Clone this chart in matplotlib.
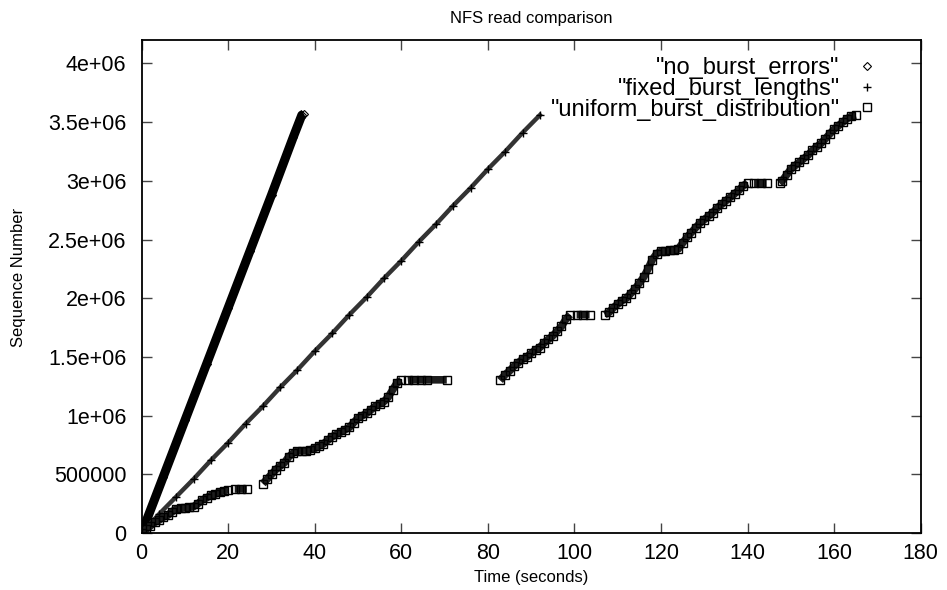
import numpy as np
import matplotlib.pyplot as plt
from matplotlib.lines import Line2D

plt.rcParams['font.family'] = ['Liberation Sans', 'DejaVu Sans']

nan = np.nan

# "no_burst_errors" (time in s, sequence number in units of 1e6)
noburst_t = [0, 5, 10, 15, 20, 25, 30, 35, 37, 37.5]
noburst_seq = [0, 0.48, 0.96, 1.44, 1.92, 2.40, 2.88, 3.37, 3.56, 3.57]

# "fixed_burst_lengths"
fixed_t = [0, 4, 8, 12, 16, 20, 24, 28, 32, 36, 40, 44, 48, 52, 56, 60,
           64, 68, 72, 76, 80, 84, 88, 92]
fixed_seq = [0, 0.16, 0.31, 0.46, 0.62, 0.77, 0.93, 1.08, 1.24, 1.39, 1.55,
             1.70, 1.86, 2.01, 2.17, 2.32, 2.48, 2.63, 2.79, 2.94, 3.10,
             3.25, 3.41, 3.56]

# "uniform_burst_distribution" (nan = break between rising runs and stalls)
uniform_t = [0, 1, 2, 3, 4, 5, 6, 7, 8, 9, 10, 11, 12, 13, 14, 15, 16, 17, 18, 19, 20,
             nan, 21.5, 23, 24.3, nan,
             28, 29, 30, 31, 32, 33, 34, 35, 36, 37, 38, 39, 40, 41, 42, 43, 44, 45,
             46, 47, 48, 49, 50, 51, 52, 53, 54, 55, 56, 57, 58, 59, 60,
             nan, 61.5, 63, 64.5, 66, 70.5, nan,
             82.8, 84, 85, 86, 87, 88, 89, 90, 91, 92, 93, 94, 95, 96, 97, 98, 99,
             nan, 100.5, 102, 103.5, nan,
             107, 108, 109, 110, 111, 112, 113, 114, 115, 116, 117, 118, 119, 120,
             121, 122, 123, 124, 125, 126, 127, 128, 129, 130, 131, 132, 133, 134,
             135, 136, 137, 138, 139, 140,
             nan, 141.5, 143, 144.4, nan,
             147.4, 148, 149, 150, 151, 152, 153, 154, 155, 156, 157, 158, 159, 160,
             161, 162, 163, 164, 165]
uniform_seq = [0, 0.03, 0.06, 0.09, 0.11, 0.135, 0.15, 0.18, 0.205, 0.21, 0.215, 0.22,
               0.225, 0.25, 0.28, 0.30, 0.32, 0.33, 0.35, 0.36, 0.37,
               nan, 0.375, 0.375, 0.375, nan,
               0.42, 0.46, 0.50, 0.54, 0.57, 0.60, 0.65, 0.68, 0.70, 0.70, 0.70, 0.71,
               0.72, 0.74, 0.76, 0.79, 0.82, 0.84, 0.86, 0.88, 0.90, 0.94, 0.98, 1.00,
               1.02, 1.05, 1.08, 1.10, 1.12, 1.16, 1.22, 1.28, 1.30,
               nan, 1.30, 1.305, 1.305, 1.305, 1.305, nan,
               1.30, 1.35, 1.38, 1.42, 1.45, 1.48, 1.50, 1.53, 1.56, 1.58, 1.62, 1.65,
               1.68, 1.72, 1.76, 1.82, 1.86,
               nan, 1.86, 1.86, 1.86, nan,
               1.86, 1.88, 1.92, 1.95, 1.98, 2.00, 2.04, 2.08, 2.13, 2.18, 2.25, 2.33,
               2.38, 2.40, 2.40, 2.41, 2.41, 2.42, 2.47, 2.52, 2.56, 2.60, 2.64, 2.67,
               2.70, 2.73, 2.77, 2.80, 2.83, 2.86, 2.89, 2.92, 2.96, 2.98,
               nan, 2.98, 2.98, 2.98, nan,
               2.98, 3.00, 3.05, 3.10, 3.13, 3.16, 3.19, 3.22, 3.26, 3.29, 3.32, 3.36,
               3.40, 3.44, 3.47, 3.50, 3.53, 3.55, 3.56]

labels = ['"no_burst_errors"', '"fixed_burst_lengths"', '"uniform_burst_distribution"']

scale = 1e6
fig = plt.figure(figsize=(9.47, 5.9), dpi=100)
ax = fig.add_axes([0.1496, 0.0966, 0.8226, 0.8356])

# dense point clouds -> thick bands plus the actual point markers
ax.plot(noburst_t, np.array(noburst_seq) * scale, color='black', lw=6.5,
        solid_capstyle='butt')
ax.plot(noburst_t, np.array(noburst_seq) * scale, 'D', ms=4, mfc='none',
        mec='black', mew=0.8, ls='none')

ax.plot(fixed_t, np.array(fixed_seq) * scale, color='#333333', lw=3.2)
ax.plot(fixed_t, np.array(fixed_seq) * scale, '+', ms=6, color='black',
        mew=1, ls='none')

useq = np.array(uniform_seq) * scale
ax.plot(uniform_t, useq, color='#1e1e1e', lw=5.5, solid_capstyle='butt')
ax.plot(uniform_t, useq, 's', ms=5.5, mfc='none', mec='black', mew=1,
        ls='none')

ax.set_xlim(0, 180)
ax.set_ylim(0, 4.2e6)
ax.set_xticks(np.arange(0, 181, 20))
ax.set_yticks(np.arange(0, 4.01e6, 5e5))
ax.set_yticklabels(['0', '500000', '1e+06', '1.5e+06', '2e+06', '2.5e+06',
                    '3e+06', '3.5e+06', '4e+06'])
ax.tick_params(direction='in', length=7, width=1, top=True, right=True,
               labelsize=15.5, color='#444444')
ax.tick_params(axis='x', pad=7)
ax.tick_params(axis='y', pad=11)
for s in ax.spines.values():
    s.set_linewidth(1.3)

ax.set_title('NFS read comparison', fontsize=12, pad=12.5)
ax.set_xlabel('Time (seconds)', fontsize=12, labelpad=4.5)
ax.set_ylabel('Sequence Number', fontsize=12)
ax.yaxis.set_label_coords(-0.1485, 0.519)

handles = [
    Line2D([], [], marker='D', ms=4, mfc='white', mec='black', mew=0.8, ls='none'),
    Line2D([], [], marker='+', ms=6, color='black', mew=1, ls='none'),
    Line2D([], [], marker='s', ms=5.5, mfc='white', mec='black', mew=1, ls='none'),
]
ax.legend(handles, labels, loc='upper right', bbox_to_anchor=(0.962, 0.984),
          borderaxespad=0, frameon=False, markerfirst=False, fontsize=17,
          handlelength=1.2, handletextpad=0.58, labelspacing=-0.06)

fig.savefig('out.png', dpi=100)
